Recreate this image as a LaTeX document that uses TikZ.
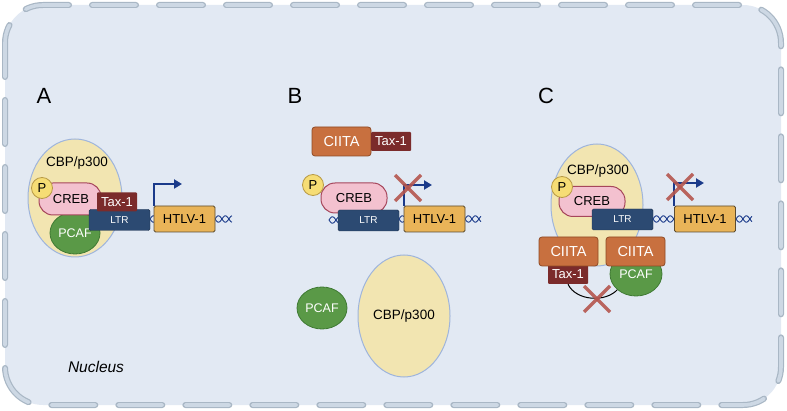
\documentclass[tikz,border=0pt]{standalone}
\usepackage{fontspec}
\setmainfont{Liberation Sans}
\usetikzlibrary{arrows.meta,shapes.geometric,calc}
\definecolor{bgfill}{HTML}{E2E9F3}
\definecolor{borderdark}{HTML}{A9B7C5}
\definecolor{borderlight}{HTML}{CDD8E4}
\definecolor{cbpfill}{HTML}{F2E5B1}
\definecolor{cbpline}{HTML}{9FB5DC}
\definecolor{pfill}{HTML}{F6DD75}
\definecolor{pline}{HTML}{B89A45}
\definecolor{crebfill}{HTML}{F3C1CF}
\definecolor{crebline}{HTML}{A6465B}
\definecolor{taxfill}{HTML}{7B2B2B}
\definecolor{ltrfill}{HTML}{2C4A72}
\definecolor{ltrline}{HTML}{1E3350}
\definecolor{pcaffill}{HTML}{5A9947}
\definecolor{pcafline}{HTML}{3F7A33}
\definecolor{htlvfill}{HTML}{E9B458}
\definecolor{htlvline}{HTML}{5B4B30}
\definecolor{promcol}{HTML}{1A3A8A}
\definecolor{ciitafill}{HTML}{C8703F}
\definecolor{ciitaline}{HTML}{8F4B25}
\definecolor{xred}{HTML}{B5564E}
\tikzset{
  cbp/.style={ellipse, draw=cbpline, fill=cbpfill, line width=1pt, inner sep=0pt, minimum width=92pt, minimum height=120pt, font=\fontsize{13.5}{15}\selectfont},
  phos/.style={circle, draw=pline, fill=pfill, line width=0.8pt, inner sep=0pt, minimum size=21pt, font=\fontsize{13}{15}\selectfont},
  creb/.style={rectangle, rounded corners=14pt, draw=crebline, fill=crebfill, line width=1pt, inner sep=0pt, minimum width=64pt, minimum height=30pt, font=\fontsize{13}{15}\selectfont},
  tax/.style={rectangle, rounded corners=1pt, fill=taxfill, text=white, inner sep=0pt, minimum width=40pt, minimum height=19pt, font=\fontsize{13}{15}\selectfont},
  ltr/.style={rectangle, rounded corners=1.5pt, draw=ltrline, fill=ltrfill, text=white, inner sep=0pt, minimum width=61pt, minimum height=21pt, font=\fontsize{10}{12}\selectfont},
  pcaf/.style={ellipse, draw=pcafline, fill=pcaffill, text=white, line width=0.8pt, inner sep=0pt, minimum width=50pt, minimum height=42pt, font=\fontsize{12.5}{14}\selectfont},
  htlv/.style={rectangle, rounded corners=1.5pt, draw=htlvline, fill=htlvfill, line width=0.8pt, inner sep=0pt, minimum width=61pt, minimum height=26pt, font=\fontsize{13}{15}\selectfont},
  ciita/.style={rectangle, rounded corners=3pt, draw=ciitaline, fill=ciitafill, text=white, line width=0.8pt, inner sep=0pt, minimum width=59pt, minimum height=29pt, font=\fontsize{14.5}{16}\selectfont},
  promoter/.style={draw=promcol, line width=2pt, -{Triangle[length=8pt,width=9pt]}},
  xmark/.style={draw=xred, line width=3.5pt, opacity=0.9},
  helixline/.style={draw=promcol, line width=0.9pt},
  txt/.style={inner sep=0pt, font=\fontsize{13.5}{15}\selectfont},
  panel/.style={inner sep=0pt, font=\fontsize{22}{26}\selectfont},
}
\newcommand\dnahelix[3]{%
  \draw[helixline] plot[domain=#1:#2, samples=30, smooth] (\x, {#3+3.2*sin((\x-#1)*26)});
  \draw[helixline] plot[domain=#1:#2, samples=30, smooth] (\x, {#3-3.2*sin((\x-#1)*26)});
}
\begin{document}
\begin{tikzpicture}[x=1pt,y=-1pt]
\path[use as bounding box] (0,0) rectangle (787,411);
% nucleus
\fill[bgfill, rounded corners=38pt] (5,5) rectangle (781,405);
\draw[borderdark, line width=6pt, line cap=round, dash pattern=on 44pt off 23pt, dash phase=10pt, rounded corners=38pt] (5,5) rectangle (781,405);
\draw[borderlight, line width=3.6pt, line cap=round, dash pattern=on 44pt off 23pt, dash phase=10pt, rounded corners=38pt] (5,5) rectangle (781,405);
\node[panel] (labA) at (44,96) {A};
\node[panel] (labB) at (295,96) {B};
\node[panel] (labC) at (546,96) {C};
\node[inner sep=0pt, font=\fontsize{15.5}{17}\selectfont\itshape] (nuc) at (96,367) {Nucleus};

% ---------- Panel A ----------
\node[cbp, minimum width=94pt, minimum height=118pt] (cbpA) at (75,198) {};
\node[txt] (cbpAt) at (77,163) {CBP/p300};
\node[pcaf] (pcafA) at (75,233) {PCAF};
\dnahelix{150}{154}{219}
\dnahelix{215}{232}{219}
\node[creb, minimum width=62pt, minimum height=32pt] (crebA) at (70,199) {\hspace*{2pt}CREB};
\node[phos] (pA) at (42,188) {P};
\node[ltr] (ltrA) at (119.5,220) {LTR};
\node[tax] (taxA) at (117,202) {Tax-1};
\node[htlv] (htA) at (184.5,219) {HTLV-1};
\coordinate (tipA) at (182,184);
\draw[promoter] (htA.north west) |- (tipA);

% ---------- Panel B ----------
\node[ciita] (ciitaB) at (341.5,141.5) {CIITA};
\node[tax] (taxB) at (391,141.5) {Tax-1};
\dnahelix{329}{338}{220}
\dnahelix{399}{404}{219}
\dnahelix{465}{481}{219}
\node[creb, minimum width=66pt] (crebB) at (354,198) {CREB};
\node[phos] (pB) at (313,185) {P};
\node[ltr] (ltrB) at (368.5,220.5) {LTR};
\node[htlv] (htB) at (434.5,219) {HTLV-1};
\coordinate (tipB) at (432,185);
\draw[promoter] (htB.north west) |- (tipB);
\coordinate (xB) at (408,188);
\draw[xmark] ($(xB)+(-13,-13)$) -- ($(xB)+(13,13)$);
\draw[xmark] ($(xB)+(13,-13)$) -- ($(xB)+(-13,13)$);
\node[pcaf] (pcafB) at (322,308) {PCAF};
\node[cbp, minimum width=92pt, minimum height=122pt] (cbpB) at (404,316) {CBP/p300};

% ---------- Panel C ----------
\node[cbp, minimum width=92pt, minimum height=122pt] (cbpC) at (597,205) {};
\node[txt] (cbpCt) at (598,171) {CBP/p300};
\node[creb, minimum width=66pt] (crebC) at (592,201.5) {CREB};
\node[phos] (pC) at (562,187) {P};
\node[ltr] (ltrC) at (622.5,219.5) {LTR};
\dnahelix{653}{674}{219}
\dnahelix{736}{752}{219}
\node[htlv] (htC) at (705,219) {HTLV-1};
\coordinate (tipC) at (704,183);
\draw[promoter] (htC.north west) |- (tipC);
\coordinate (xC1) at (680,187);
\draw[xmark] ($(xC1)+(-13,-13)$) -- ($(xC1)+(13,13)$);
\draw[xmark] ($(xC1)+(13,-13)$) -- ($(xC1)+(-13,13)$);
\node[tax] (taxC) at (568,274.5) {Tax-1};
\coordinate (arcEnd) at (618,289);
\draw[black, line width=1pt] (taxC.south) .. controls (576,301) and (606,303) .. (arcEnd);
\node[pcaf, minimum width=52pt, minimum height=44pt] (pcafC) at (636,274) {PCAF};
\node[ciita] (ciitaC1) at (568.5,251.5) {CIITA};
\node[ciita] (ciitaC2) at (635.5,251.5) {CIITA};
\coordinate (xC2) at (597,299);
\draw[xmark] ($(xC2)+(-13,-13)$) -- ($(xC2)+(13,13)$);
\draw[xmark] ($(xC2)+(13,-13)$) -- ($(xC2)+(-13,13)$);
\end{tikzpicture}
\end{document}
